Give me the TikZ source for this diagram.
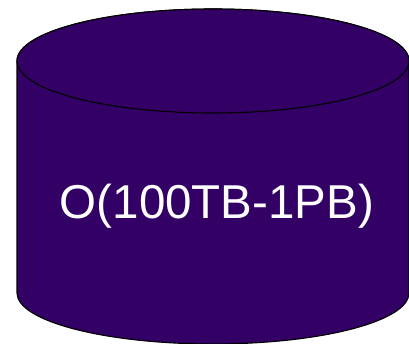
\documentclass[tikz,border=0pt]{standalone}
\usepackage{fontspec}
\setmainfont{Liberation Sans}
\definecolor{cylfill}{HTML}{330066}
\tikzset{cylbody/.style={fill=cylfill,draw=black,line width=1.1pt}}
\begin{document}
\begin{tikzpicture}[x=1pt,y=1pt]
\useasboundingbox (0,0) rectangle (409,344);
\draw[cylbody] (17,283) -- (17,51) arc[start angle=180,end angle=360,x radius=196,y radius=51] -- (409,283) arc[start angle=0,end angle=180,x radius=196,y radius=52] -- cycle;
\draw[cylbody] (213,283) ellipse[x radius=196,y radius=52];
\node[text=white,font=\fontsize{47.5}{50}\selectfont,inner sep=0pt] (lbl) at (217,138) {O(100TB-1PB)};
\end{tikzpicture}
\end{document}
